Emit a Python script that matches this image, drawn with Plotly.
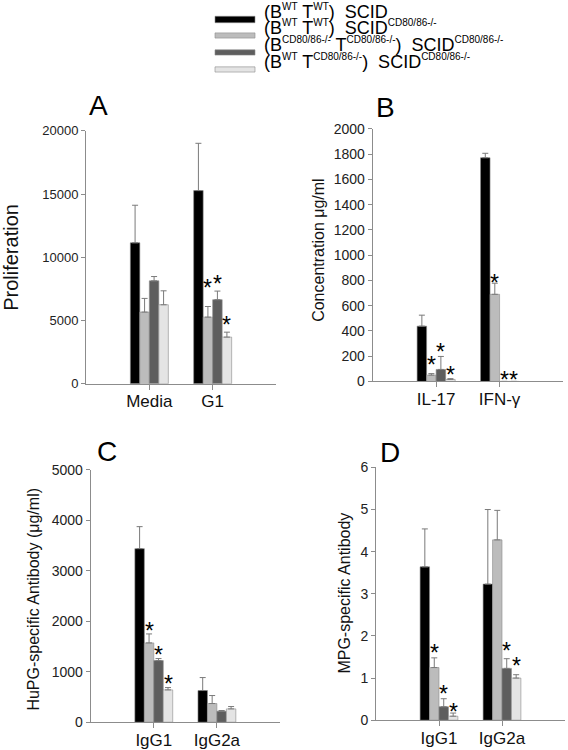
import plotly.graph_objects as go

# ---------------- data ----------------
def sup(t):
    return "<sup><span style='font-size:10px'>" + t + "</span></sup>"

series_names = [
    "(B" + sup("WT") + " T" + sup("WT") + ")&nbsp;&nbsp;SCID",
    "(B" + sup("WT") + " T" + sup("WT") + ")&nbsp;&nbsp;SCID" + sup("CD80/86-/-"),
    "(B" + sup("CD80/86-/-") + " T" + sup("CD80/86-/-") + ")&nbsp;&nbsp;SCID" + sup("CD80/86-/-"),
    "(B" + sup("WT") + " T" + sup("CD80/86-/-") + ")&nbsp;&nbsp;SCID" + sup("CD80/86-/-"),
]
series_colors = ["#000000", "#bcbcbc", "#5e5e5e", "#e4e4e4"]

# Panel A: Proliferation
a_cats = ["Media", "G1"]
a_vals = [[11150, 15280], [5670, 5270], [8140, 6650], [6250, 3690]]
a_errs = [[2970, 3740], [1080, 840], [340, 680], [1100, 390]]

# Panel B: Concentration
b_cats = ["IL-17", "IFN-γ"]
b_vals = [[438, 1772], [50, 690], [95, 0], [16, 0]]
b_errs = [[87, 35], [12, 88], [103, 0], [6, 0]]

# Panel C: HuPG-specific antibody
c_cats = ["IgG1", "IgG2a"]
c_vals = [[3437, 627], [1570, 370], [1220, 218], [640, 264]]
c_errs = [[435, 257], [178, 158], [40, 13], [46, 46]]

# Panel D: MPG-specific antibody
d_cats = ["IgG1", "IgG2a"]
d_vals = [[3.64, 3.23], [1.25, 4.28], [0.32, 1.23], [0.095, 1.0]]
d_errs = [[0.90, 1.77], [0.23, 0.70], [0.19, 0.23], [0.075, 0.08]]

# significance stars: (category index, series index, pixel lift above error top)
a_stars = [(1, 1, 24), (1, 2, 12.5), (1, 3, 12)]
b_stars = [(0, 1, 14), (0, 2, 9), (0, 3, 9), (1, 1, 5.5), (1, 2, 6.5), (1, 3, 6.5)]
c_stars = [(0, 1, 8), (0, 2, 8.5), (0, 3, 8.5)]
d_stars = [(0, 1, 10), (0, 2, 10), (0, 3, 6.5), (1, 2, 13), (1, 3, 13.5)]

W, H = 568, 750
# screen-pixel -> paper mapping (the page is shown with a small vertical offset/scale)
V_OFF, V_SC = 8.0, 0.978


def px(x):
    return x / W


def py(y):
    return 1 - ((y - V_OFF) / V_SC) / H


panels = [
    dict(cats=a_cats, vals=a_vals, errs=a_errs, stars=a_stars, yr=[0, 20000], dt=5000,
         xd=[86, 276], yd=[384, 131],
         title="Proliferation", tsize=20, tx=11, ty=258, letter="A", lx=98, ly=106, tick=13),
    dict(cats=b_cats, vals=b_vals, errs=b_errs, stars=b_stars, yr=[0, 2000], dt=200,
         xd=[372.7, 563], yd=[381.7, 129],
         title="Concentration μg/ml", tsize=16, tx=319, ty=250, letter="B", lx=385, ly=108, tick=14),
    dict(cats=c_cats, vals=c_vals, errs=c_errs, stars=c_stars, yr=[0, 5000], dt=1000,
         xd=[90.7, 280], yd=[722.7, 470],
         title="HuPG-specific Antibody (μg/ml)", tsize=16, tx=34, ty=600, letter="C", lx=107, ly=452, tick=14),
    dict(cats=d_cats, vals=d_vals, errs=d_errs, stars=d_stars, yr=[0, 6], dt=1,
         xd=[376, 565], yd=[720.7, 467.7],
         title="MPG-specific Antibody", tsize=16, tx=345, ty=594, letter="D", lx=390, ly=453, tick=14),
]

FONT = "Liberation Sans, Arial, sans-serif"
fig = go.Figure()
annotations = []
shapes = []
layout = {}
offsets = [-0.225, -0.075, 0.075, 0.225]

for p_i, p in enumerate(panels):
    sfx = "" if p_i == 0 else str(p_i + 1)
    xa, ya = "x" + sfx, "y" + sfx
    for s in range(4):
        fig.add_trace(go.Bar(
            x=p["cats"], y=p["vals"][s], xaxis=xa, yaxis=ya,
            marker=dict(color=series_colors[s], line=dict(color="#8a8a8a", width=0.6)),
            error_y=dict(type="data", symmetric=False, array=p["errs"][s],
                         arrayminus=[0] * len(p["cats"]), color="#7a7a7a",
                         thickness=1, width=3),
            showlegend=False, hoverinfo="skip",
        ))
    layout["xaxis" + sfx] = dict(
        domain=[px(p["xd"][0]), px(p["xd"][1])], anchor=ya, range=[-1, 2], type="category",
        showline=True, linecolor="#8c8c8c", linewidth=1,
        ticks="outside", ticklen=5, tickcolor="#8c8c8c", ticklabelstandoff=-3,
        tickfont=dict(size=17, color="#111", family=FONT), showgrid=False, fixedrange=True,
    )
    layout["yaxis" + sfx] = dict(
        domain=[py(p["yd"][0]), py(p["yd"][1])], anchor=xa, range=p["yr"], dtick=p["dt"],
        tickformat="d",
        showline=True, linecolor="#8c8c8c", linewidth=1,
        ticks="outside", ticklen=4, tickcolor="#8c8c8c",
        tickfont=dict(size=p["tick"], color="#222", family=FONT), showgrid=False,
        zeroline=False, fixedrange=True,
    )
    for (ci, si, lift) in p["stars"]:
        annotations.append(dict(
            x=ci + offsets[si], y=p["vals"][si][ci] + p["errs"][si][ci],
            xref=xa, yref=ya, text="*", showarrow=False,
            yanchor="middle", xanchor="center", yshift=lift - 5,
            font=dict(size=23, color="#000", family=FONT),
        ))
    annotations.append(dict(
        x=px(p["tx"]), y=py(p["ty"]), xref="paper", yref="paper",
        text=p["title"], textangle=-90, showarrow=False,
        xanchor="center", yanchor="middle",
        font=dict(size=p["tsize"], color="#111", family=FONT),
    ))
    annotations.append(dict(
        x=px(p["lx"]), y=py(p["ly"]), xref="paper", yref="paper",
        text=p["letter"], showarrow=False, xanchor="center", yanchor="middle",
        font=dict(size=28, color="#000", family=FONT),
    ))

# legend (manual, wide swatches)
leg_rows = [19.5, 35.5, 52.5, 69.5]
for s in range(4):
    yc = leg_rows[s]
    hh = 3.2 if s == 0 else 2.6
    shapes.append(dict(
        type="rect", xref="paper", yref="paper",
        x0=px(215), x1=px(255), y0=py(yc + hh), y1=py(yc - hh),
        fillcolor=series_colors[s], line=dict(color="#8a8a8a", width=0.6),
    ))
    annotations.append(dict(
        x=px(262), y=py(yc + 4.5), xref="paper", yref="paper", text=series_names[s],
        showarrow=False, xanchor="left", yanchor="bottom",
        font=dict(size=18, color="#000", family=FONT),
    ))

fig.update_layout(
    width=W, height=H, margin=dict(l=0, r=0, t=0, b=0),
    paper_bgcolor="white", plot_bgcolor="white",
    barmode="group", bargap=0.4, bargroupgap=0,
    annotations=annotations, shapes=shapes, showlegend=False,
    font=dict(family=FONT),
    **layout,
)

fig.write_html(
    "out.html",
    config={"displayModeBar": False},
    post_script="document.body.style.margin='0';document.body.style.padding='0';document.body.style.overflow='hidden';",
)
